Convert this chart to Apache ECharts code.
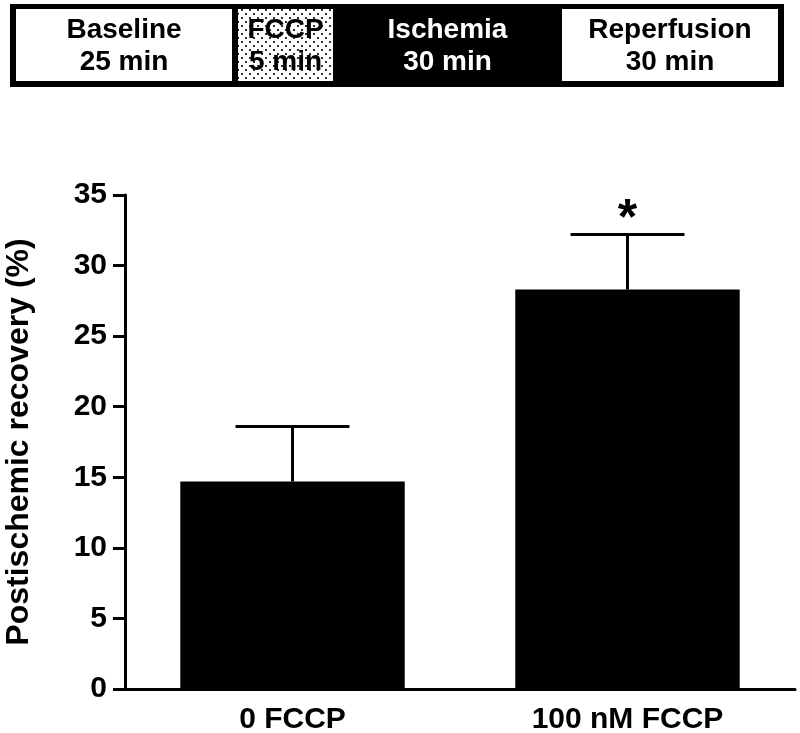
<!DOCTYPE html>
<html>
<head>
<meta charset="utf-8">
<script src="https://cdn.jsdelivr.net/npm/echarts@6/dist/echarts.min.js"></script>
<style>
html,body{margin:0;padding:0;background:#fff;}
#chart{width:800px;height:733px;}
</style>
</head>
<body>
<div id="chart"></div>
<script>
// ---- Data ----
const categories = ['0 FCCP', '100 nM FCCP'];
const recoveryMean = [14.7, 28.3];
const recoverySEM = [3.9, 3.9];
const sigMarks = ['', '*'];
const yTicks = [0, 5, 10, 15, 20, 25, 30, 35];
const phaseNames = ['Baseline', 'FCCP', 'Ischemia', 'Reperfusion'];
const phaseDurations = ['25 min', '5 min', '30 min', '30 min'];

const FONT = "'Liberation Sans', Arial, Helvetica, sans-serif";

// dotted pattern for the FCCP box
const pat = document.createElement('canvas');
pat.width = 8; pat.height = 8;
(function(){
  const c = pat.getContext('2d');
  c.fillStyle = '#fff'; c.fillRect(0,0,8,8);
  c.fillStyle = '#000';
  c.beginPath(); c.arc(2,2,1.1,0,Math.PI*2); c.fill();
  c.beginPath(); c.arc(6,6,1.1,0,Math.PI*2); c.fill();
})();

// protocol box layout
const boxes = [
  {x:16, w:216, fill:'#fff', text:'#000'},
  {x:238, w:95, fill:{image: pat, repeat:'repeat'}, text:'#000'},
  {x:333, w:229, fill:null, text:'#fff'},
  {x:562, w:216, fill:'#fff', text:'#000'}
];
const graphics = [
  {type:'rect', shape:{x:10, y:4, width:774, height:83}, style:{fill:'#000'}, z:1}
];
boxes.forEach((b, i) => {
  if (b.fill) {
    graphics.push({type:'rect', shape:{x:b.x, y:9, width:b.w, height:72}, style:{fill:b.fill}, z:2});
  }
  graphics.push({
    type:'text', x:b.x + b.w/2, y:30, z:3,
    style:{text:phaseNames[i], fill:b.text, font:'bold 28px ' + FONT, textAlign:'center', textVerticalAlign:'middle'}
  });
  graphics.push({
    type:'text', x:b.x + b.w/2, y:62, z:3,
    style:{text:phaseDurations[i], fill:b.text, font:'bold 28px ' + FONT, textAlign:'center', textVerticalAlign:'middle'}
  });
});

const chart = echarts.init(document.getElementById('chart'), null, {renderer:'canvas'});
chart.setOption({
  animation:false,
  backgroundColor:'#fff',
  graphic: graphics,
  grid:{left:125, right:5, top:195, bottom:44, containLabel:false, outerBoundsMode:'none'},
  xAxis:{
    type:'category',
    data:categories,
    axisLine:{lineStyle:{color:'#000', width:3}},
    axisTick:{show:false},
    axisLabel:{color:'#000', fontSize:30, fontWeight:'bold', fontFamily:FONT, margin:16}
  },
  yAxis:{
    type:'value',
    min:yTicks[0], max:yTicks[yTicks.length-1], interval:5,
    name:'Postischemic recovery (%)',
    nameLocation:'middle',
    nameGap:90,
    nameTextStyle:{color:'#000', fontSize:32, fontWeight:'bold', fontFamily:FONT},
    axisLine:{show:true, lineStyle:{color:'#000', width:3}},
    axisTick:{show:true, length:12, lineStyle:{color:'#000', width:3}},
    axisLabel:{color:'#000', fontSize:30, fontWeight:'bold', fontFamily:FONT, margin:18},
    splitLine:{show:false}
  },
  series:[
    {
      type:'bar',
      data:recoveryMean,
      barWidth:'67%',
      itemStyle:{color:'#000'},
      z:2
    },
    {
      type:'custom',
      z:3,
      data:categories.map((c,i) => [i, recoveryMean[i], recoverySEM[i]]),
      renderItem:function(params, api){
        const i = api.value(0), m = api.value(1), e = api.value(2);
        const base = api.coord([i, m]);
        const top = api.coord([i, m + e]);
        const half = api.size([1, 0])[0] * 0.17;
        const ls = {stroke:'#000', lineWidth:3};
        const children = [
          {type:'line', shape:{x1:base[0], y1:base[1], x2:top[0], y2:top[1]}, style:ls},
          {type:'line', shape:{x1:top[0]-half, y1:top[1], x2:top[0]+half, y2:top[1]}, style:ls}
        ];
        const s = sigMarks[params.dataIndex];
        if (s) {
          children.push({type:'text', x:top[0], y:top[1]-14,
            style:{text:s, fill:'#000', font:'bold 50px ' + FONT, textAlign:'center', textVerticalAlign:'middle'}});
        }
        return {type:'group', children:children};
      }
    }
  ]
});
</script>
</body>
</html>
